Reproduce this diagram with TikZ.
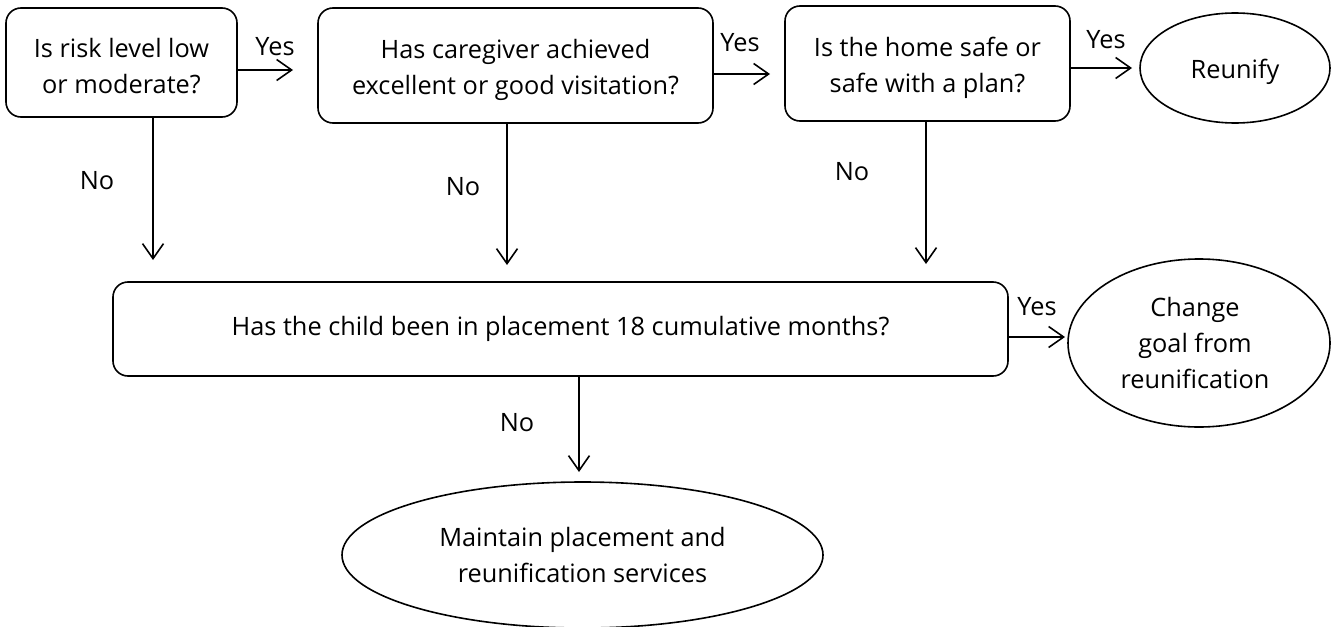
\documentclass[tikz,border=0pt]{standalone}
\usepackage{fontspec}
\setmainfont{Open Sans}
\usetikzlibrary{arrows.meta,shapes.geometric}
\begin{document}
\begin{tikzpicture}[x=1pt,y=-1pt,
  every node/.style={font=\fontsize{25.3}{36}\selectfont},
  qbox/.style={draw,line width=1.6pt,rounded corners=15pt,align=center,inner sep=0pt},
  oval/.style={draw,ellipse,line width=1.6pt,align=center,inner sep=0pt},
  txt/.style={label={[align=center,inner sep=0pt,yshift=-4pt]center:#1}},
  arr/.style={line width=1.6pt,-{Straight Barb[length=15pt,width=21pt,line width=1.6pt]}},
  lbl/.style={inner sep=0pt}]
\useasboundingbox (0,0) rectangle (1332,626);
\node[qbox,minimum width=231pt,minimum height=109pt,txt={Is risk level low\\or moderate?}] (b1) at (121.5,62.5) {};
\node[qbox,minimum width=395pt,minimum height=115pt,txt={Has caregiver achieved\\excellent or good visitation?}] (b2) at (515.5,65.5) {};
\node[qbox,minimum width=285pt,minimum height=115pt,txt={Is the home safe or\\safe with a plan?}] (b3) at (927.5,63.5) {};
\node[oval,minimum width=190pt,minimum height=110pt,txt={Reunify}] (reu) at (1235,68) {};
\node[qbox,minimum width=895pt,minimum height=94pt] (b4) at (560.5,329) {Has the child been in placement 18 cumulative months?};
\node[oval,minimum width=262pt,minimum height=168pt,
  label={[align=center,inner sep=0pt,xshift=-4pt]center:Change\\goal from\\reunification}] (chg) at (1199,343) {};
\node[oval,minimum width=481pt,minimum height=146pt,
  label={[align=center,inner sep=0pt]center:Maintain placement and\\reunification services}] (mnt) at (582.5,555) {};
% free ends
\coordinate (y1) at (293,70);
\coordinate (y2) at (770,74);
\coordinate (y3) at (1132,68);
\coordinate (y4) at (1065,337);
\coordinate (n1) at (153,260);
\coordinate (n2) at (507,265);
\coordinate (n3) at (926,264);
\coordinate (n4) at (579,472);
\draw[arr] (b1.east |- y1) -- (y1);
\draw[arr] (b2.east |- y2) -- (y2);
\draw[arr] (b3.east |- y3) -- (y3);
\draw[arr] (b4.east |- y4) -- (y4);
\draw[arr] (b1.south -| n1) -- (n1);
\draw[arr] (b2.south -| n2) -- (n2);
\draw[arr] (b3.south -| n3) -- (n3);
\draw[arr] (b4.south -| n4) -- (n4);
\node[lbl] (l1) at (275,47) {Yes};
\node[lbl] (l2) at (740,43) {Yes};
\node[lbl] (l3) at (1106,40) {Yes};
\node[lbl] (l4) at (1037,307) {Yes};
\node[lbl] (l5) at (97,181) {No};
\node[lbl] (l6) at (463,187) {No};
\node[lbl] (l7) at (852,172) {No};
\node[lbl] (l8) at (517,423) {No};
\end{tikzpicture}
\end{document}
